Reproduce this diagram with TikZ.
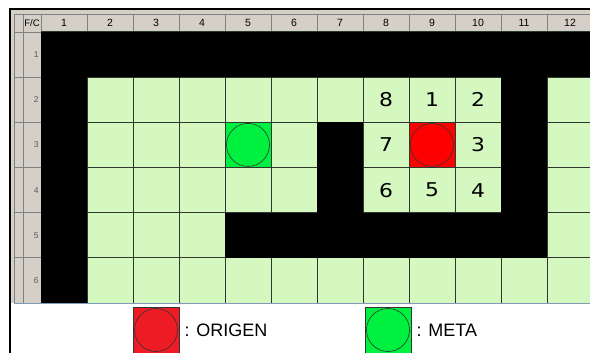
\documentclass[tikz,border=0pt]{standalone}
\usepackage{fontspec}
\setmainfont{Liberation Sans}
\newfontfamily\numfont[FakeStretch=1.15]{DejaVu Sans}
\usetikzlibrary{positioning}

\definecolor{libre}{HTML}{D5F7C0}
\definecolor{cabecera}{HTML}{D4D0C8}
\definecolor{rejilla}{HTML}{2E382E}
\definecolor{rojo}{HTML}{FF0000}
\definecolor{rojoley}{HTML}{ED1C24}
\definecolor{verde}{HTML}{00F040}
\definecolor{borde}{HTML}{7F9DB9}

\tikzset{
  celda/.style={anchor=north west, minimum width=46pt, minimum height=45.17pt,
    inner sep=0pt, outer sep=0pt, fill=libre, draw=rejilla, line width=1pt},
  cab/.style={anchor=north west, inner sep=0pt, outer sep=0pt, fill=cabecera,
    draw=black!50, line width=0.8pt, font=\fontsize{10.5}{12}\selectfont},
  ficha/.style={circle, draw=black!80, line width=0.6pt, minimum size=43pt, inner sep=0pt},
  numero/.style={font=\numfont\fontsize{19}{19}\selectfont, inner sep=0pt},
  leyenda/.style={font=\fontsize{18}{18}\selectfont, inner sep=0pt, anchor=west},
}

\begin{document}
\begin{tikzpicture}[x=1pt,y=-1pt]
  \useasboundingbox (0,0) rectangle (590,353);
  \clip (0,0) rectangle (590,353);

  % marco
  \fill[cabecera] (10,9) rectangle (592,303);
  \draw[line width=2pt] (10,353) -- (10,9) -- (592,9);

  % cabecera de columnas
  \node[cab, minimum width=9pt, minimum height=18pt] (esq) at (14,14) {};
  \node[cab, minimum width=18pt, minimum height=18pt, font=\fontsize{9.5}{10}\selectfont] (fc) at (23,14) {F/C};
  \foreach \c in {1,...,12}
    \node[cab, minimum width=46pt, minimum height=18pt] (h\c) at ({41+46*(\c-1)},14) {\c};

  % cabecera de filas
  \foreach \r in {1,...,6}{
    \node[cab, minimum width=9pt, minimum height=45.17pt] (m\r) at (14,{32+45.17*(\r-1)}) {};
    \node[cab, minimum width=18pt, minimum height=45.17pt, text width=13pt, align=right,
      text=black!65, font=\fontsize{8.5}{9}\selectfont] (f\r) at (23,{32+45.17*(\r-1)}) {\r};
  }

  % tablero
  \foreach \c in {1,...,12}
    \foreach \r in {1,...,6}
      \node[celda] (c\c-\r) at ({41+46*(\c-1)},{32+45.17*(\r-1)}) {};

  % muros
  \foreach \c in {1,...,12}
    \fill (c\c-1.north west) rectangle (c\c-1.south east);
  \foreach \r in {2,...,6}
    \fill (c1-\r.north west) rectangle (c1-\r.south east);
  \foreach \r in {2,...,5}
    \fill (c11-\r.north west) rectangle (c11-\r.south east);
  \foreach \r in {3,4}
    \fill (c7-\r.north west) rectangle (c7-\r.south east);
  \foreach \c in {5,...,10}
    \fill (c\c-5.north west) rectangle (c\c-5.south east);

  % origen y meta
  \node[celda, fill=rojo] (origen) at (c9-3.north west) {};
  \node[ficha] (fo) at (origen.center) {};
  \node[celda, fill=verde] (meta) at (c5-3.north west) {};
  \node[ficha] (fm) at (meta.center) {};

  % vecinos
  \foreach \c/\r/\n in {9/2/1,10/2/2,10/3/3,10/4/4,9/4/5,8/4/6,8/3/7,8/2/8}
    \node[numero] (n\n) at (c\c-\r) {\n};

  \draw[borde, line width=1pt] (14,303) -- (592,303);

  % leyenda
  \node[celda, fill=rojoley, draw=black!80, minimum height=46pt] (lorigen) at (133,307) {};
  \node[ficha] (lfo) at (lorigen.center) {};
  \node[leyenda, right=5.5pt of lorigen] (torigen) {: ORIGEN};
  \node[celda, fill=verde, draw=black!80, minimum height=46pt] (lmeta) at (365,307) {};
  \node[ficha] (lfm) at (lmeta.center) {};
  \node[leyenda, right=5.5pt of lmeta] (tmeta) {: META};
\end{tikzpicture}
\end{document}
